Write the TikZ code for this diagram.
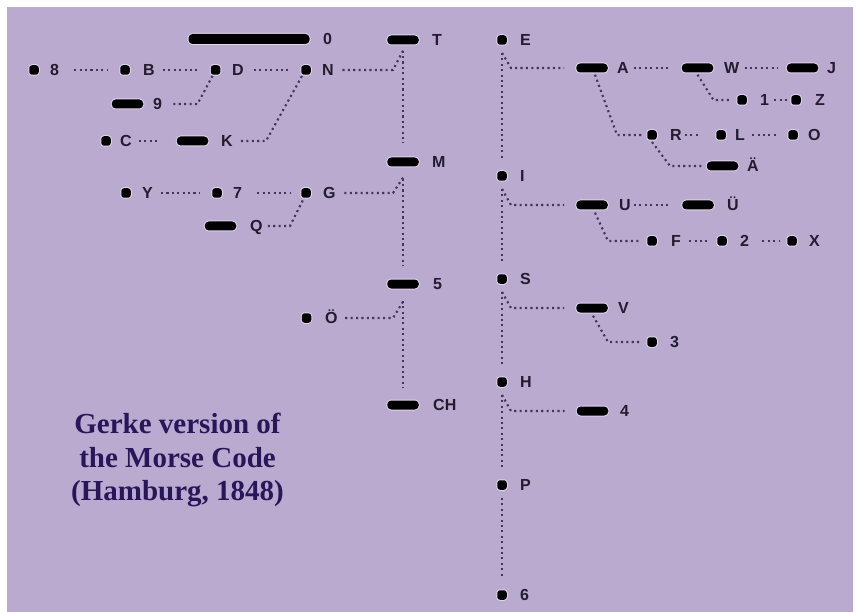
\documentclass[tikz,border=0pt]{standalone}
\usepackage{fontspec}
\setmainfont{Liberation Sans}
\newfontfamily\titlefont{Liberation Serif}
\usetikzlibrary{calc}

\definecolor{bgpurple}{RGB}{186,170,208}
\definecolor{halo}{RGB}{222,213,234}
\definecolor{lblc}{RGB}{34,28,46}
\definecolor{connc}{RGB}{66,54,92}
\definecolor{titlec}{RGB}{40,22,90}

\tikzset{
  symbase/.style={rectangle, inner sep=0pt, fill=black,
    preaction={draw=halo, line width=2pt}},
  dotsym/.style={symbase, minimum size=9.5pt, rounded corners=2.8pt},
  dashsym/.style={symbase, minimum width=31.5pt, minimum height=9pt, rounded corners=4pt},
  lbl/.style={anchor=west, inner sep=0pt, text height=11.6pt, text depth=0pt,
    font=\bfseries\fontsize{16}{18}\selectfont, text=lblc},
  conn/.style={draw=connc, line width=2.1pt, dash pattern=on 2.1pt off 3.3pt},
  hconn/.style 2 args={conn, shorten <=#1pt, shorten >=#2pt},
  titletext/.style={anchor=base, inner sep=0pt, text=titlec,
    font=\titlefont\bfseries\fontsize{29}{34}\selectfont}
}

\begin{document}
\begin{tikzpicture}[x=1pt, y=-1pt]
  \useasboundingbox (0,0) rectangle (856,612);
  \fill[white] (0,0) rectangle (856,612);
  \fill[bgpurple] (7,7) rectangle (853,612);

  % ---------- dash branch (T) ----------
  \node[dashsym, minimum width=121pt, minimum height=10pt] (s0) at (249,39) {};
  \node[lbl] (l0) at (323,39) {0};
  \node[dashsym] (sT) at (403,40) {};   \node[lbl] (lT) at (432,40) {T};
  \node[dotsym] (sN) at (306,70) {};    \node[lbl] (lN) at (322,70) {N};
  \node[dotsym] (sD) at (215.5,70) {};  \node[lbl] (lD) at (232,70) {D};
  \node[dotsym] (sB) at (125,70) {};    \node[lbl] (lB) at (143,70) {B};
  \node[dotsym] (s8) at (34,70) {};     \node[lbl] (l8) at (50,70) {8};
  \node[dashsym] (s9) at (127.5,104) {};\node[lbl] (l9) at (153,104) {9};
  \node[dotsym] (sC) at (106,141) {};   \node[lbl] (lC) at (120,141) {C};
  \node[dashsym] (sK) at (192.5,141) {};\node[lbl] (lK) at (221,141) {K};
  \node[dashsym] (sM) at (403,162) {};  \node[lbl] (lM) at (432,162) {M};
  \node[dotsym] (sG) at (306,193) {};   \node[lbl] (lG) at (323,193) {G};
  \node[dotsym] (s7) at (217,193) {};   \node[lbl] (l7) at (233,193) {7};
  \node[dotsym] (sY) at (126,193) {};   \node[lbl] (lY) at (142,193) {Y};
  \node[dashsym] (sQ) at (220.5,226) {};\node[lbl] (lQ) at (250,226) {Q};
  \node[dashsym] (s5) at (403,284) {};  \node[lbl] (l5) at (433,284) {5};
  \node[dotsym] (sOe) at (306.5,318) {};\node[lbl] (lOe) at (325,318) {Ö};
  \node[dashsym] (sCH) at (403,405) {}; \node[lbl] (lCH) at (433,405) {CH};

  % trunk T - M - 5 - CH
  \draw[conn, shorten <=6pt, shorten >=14pt] (sT) -- (sM);
  \draw[conn, shorten <=12pt, shorten >=13pt] (sM) -- (s5);
  \draw[conn, shorten <=12pt, shorten >=13pt] (s5) -- (sCH);
  % side branches off the trunk
  \draw[conn] ($(sT.south)+(0,6)$) -- ($(sT|-lN)+(-10,0)$) -- ([xshift=8pt]lN.east);
  \draw[conn] ($(sM.south)+(0,11)$) -- ($(sM|-lG)+(-10,0)$) -- ([xshift=6pt]lG.east);
  \draw[conn] ($(s5.south)+(0,13)$) -- ($(s5|-lOe)+(-10,0)$) -- ([xshift=6pt]lOe.east);
  % rows
  \draw[hconn={10}{12}] (lD.east) -- (sN.west);
  \draw[hconn={8}{13}] (lB.east) -- (sD.west);
  \draw[hconn={15}{12}] (l8.east) -- (sB.west);
  \draw[hconn={7}{17}] (lC.east) -- (sK.west);
  \draw[hconn={15}{10}] (l7.east) -- (sG.west);
  \draw[hconn={8}{12}] (lY.east) -- (s7.west);
  % hooks up to the parent dot
  \draw[conn] ([xshift=11pt]l9.east) -- ($(sD|-l9)+(-18,0)$) -- ($(sD.south)+(-3,1)$);
  \draw[conn] ([xshift=8pt]lK.east) -- ($(sN|-lK)+(-40,0)$) -- ($(sN.south)+(-4,1)$);
  \draw[conn] ([xshift=5pt]lQ.east) -- ($(sG|-lQ)+(-16,0)$) -- ($(sG.south)+(-3,2)$);

  % ---------- dot branch (E) ----------
  \node[dotsym] (sE) at (502,40) {};    \node[lbl] (lE) at (520,40) {E};
  \node[dashsym] (sA) at (592,68) {};   \node[lbl] (lA) at (617,68) {A};
  \node[dashsym] (sW) at (697.5,68) {}; \node[lbl] (lW) at (724,68) {W};
  \node[dashsym] (sJ) at (802.5,68) {}; \node[lbl] (lJ) at (827,68) {J};
  \node[dotsym] (s1) at (742,100) {};   \node[lbl] (l1) at (760,100) {1};
  \node[dotsym] (sZ) at (796,100) {};   \node[lbl] (lZ) at (815,100) {Z};
  \node[dotsym] (sR) at (652,135) {};   \node[lbl] (lR) at (670,135) {R};
  \node[dotsym] (sL) at (721,135) {};   \node[lbl] (lL) at (735,135) {L};
  \node[dotsym] (sO) at (793,135) {};   \node[lbl] (lO) at (808,135) {O};
  \node[dashsym] (sAe) at (722.5,166) {};\node[lbl] (lAe) at (747,166) {Ä};
  \node[dotsym] (sI) at (502,176) {};   \node[lbl] (lI) at (520,176) {I};
  \node[dashsym] (sU) at (592,205) {};  \node[lbl] (lU) at (619,205) {U};
  \node[dashsym] (sUe) at (698,205) {}; \node[lbl] (lUe) at (727,205) {Ü};
  \node[dotsym] (sF) at (652,241) {};   \node[lbl] (lF) at (671,241) {F};
  \node[dotsym] (s2) at (722,241) {};   \node[lbl] (l2) at (740,241) {2};
  \node[dotsym] (sX) at (792,241) {};   \node[lbl] (lX) at (809,241) {X};
  \node[dotsym] (sS) at (502,279) {};   \node[lbl] (lS) at (520,279) {S};
  \node[dashsym] (sV) at (592,308) {};  \node[lbl] (lV) at (618,308) {V};
  \node[dotsym] (s3) at (652,342) {};   \node[lbl] (l3) at (670,342) {3};
  \node[dotsym] (sH) at (502,382) {};   \node[lbl] (lH) at (520,382) {H};
  \node[dashsym] (s4) at (592.5,411) {};\node[lbl] (l4) at (620,411) {4};
  \node[dotsym] (sP) at (502,485) {};   \node[lbl] (lP) at (520,485) {P};
  \node[dotsym] (s6) at (502,595) {};   \node[lbl] (l6) at (520,595) {6};

  % trunk E - I - S - H - P - 6
  \foreach \a/\b in {sE/sI, sI/sS, sS/sH, sH/sP, sP/s6}
    \draw[conn, shorten <=8pt, shorten >=13pt] (\a) -- (\b);
  % side branches off the trunk
  \foreach \a/\b in {sE/sA, sI/sU, sS/sV, sH/s4}
    \draw[conn] ($(\a.south)+(0,8)$) -- ($(\a|-\b)+(9,0)$) -- ([xshift=-12pt]\b.west);
  % rows
  \draw[hconn={5}{14}] (lA.east) -- (sW.west);
  \draw[hconn={5}{9}] (lW.east) -- (sJ.west);
  \draw[hconn={5}{3}] (l1.east) -- (sZ.west);
  \draw[hconn={3}{18}] (lR.east) -- (sL.west);
  \draw[hconn={7}{10}] (lL.east) -- (sO.west);
  \draw[hconn={3}{12}] (lU.east) -- (sUe.west);
  \draw[hconn={8}{7}] (lF.east) -- (s2.west);
  \draw[hconn={13}{7}] (l2.east) -- (sX.west);
  % hooks down to the child
  \draw[conn] ($(sW.south)+(0,2)$) -- ($(sW|-s1)+(16,0)$) -- ([xshift=-5pt]s1.west);
  \draw[conn] ($(sA.south)+(3,2)$) -- ($(sA|-sR)+(25,0)$) -- ([xshift=-5pt]sR.west);
  \draw[conn] ($(sR.south)+(0,2)$) -- ($(sR|-sAe)+(18,0)$) -- ([xshift=-5pt]sAe.west);
  \draw[conn] ($(sU.south)+(3,3)$) -- ($(sU|-sF)+(16,0)$) -- ([xshift=-6pt]sF.west);
  \draw[conn] ($(sV.south)+(1,3)$) -- ($(sV|-s3)+(16,0)$) -- ([xshift=-6pt]s3.west);

  % ---------- title ----------
  \node[titletext] (title1) at (177.5,433) {Gerke version of};
  \node[titletext] (title2) at (177.5,467) {the Morse Code};
  \node[titletext] (title3) at (177.5,500) {(Hamburg, 1848)};
\end{tikzpicture}
\end{document}
